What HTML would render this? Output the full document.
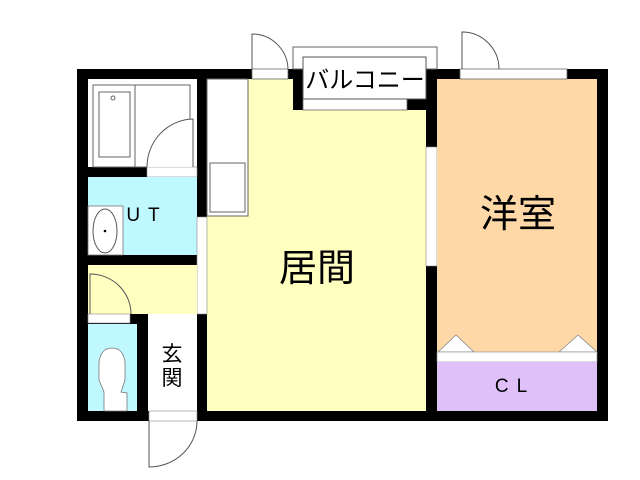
<!DOCTYPE html>
<html><head><meta charset="utf-8"><style>
body{margin:0;background:#fff}
svg{display:block}
text{font-family:"Liberation Sans","Noto Sans CJK JP",sans-serif;fill:#000}
</style></head><body>
<svg width="640" height="480" viewBox="0 0 640 480" xmlns="http://www.w3.org/2000/svg">
<rect x="77" y="69" width="531" height="352" fill="#000"/>
<rect x="207" y="79" width="219" height="332" fill="#ffffc0"/>
<rect x="207" y="79" width="41" height="137" fill="#fff" stroke="#666" stroke-width="1"/>
<rect x="210" y="163" width="35" height="49" fill="#fff" stroke="#666" stroke-width="1"/>
<rect x="293" y="69" width="144" height="41" fill="#000"/>
<rect x="303" y="99" width="104" height="11" fill="#fff" stroke="#666" stroke-width="0.8"/>
<rect x="293" y="47" width="144" height="22" fill="#fff" stroke="#666" stroke-width="1"/>
<rect x="303" y="57" width="123" height="42" fill="#fff" stroke="#555" stroke-width="1"/>
<text x="365" y="88" font-size="24" text-anchor="middle">バルコニー</text>
<rect x="252" y="69" width="36" height="10" fill="#fff" stroke="#666" stroke-width="0.8"/>
<path d="M252 69 V34 A36 36 0 0 1 288 69" fill="none" stroke="#555" stroke-width="1"/>
<rect x="426" y="147" width="11" height="119" fill="#fff" stroke="#888" stroke-width="0.6"/>
<rect x="437" y="79" width="160" height="273" fill="#ffd8a8"/>
<rect x="460" y="69" width="107" height="10" fill="#fff" stroke="#666" stroke-width="0.8"/>
<path d="M462 69 V32 A37 37 0 0 1 499 69" fill="none" stroke="#555" stroke-width="1"/>
<text x="518" y="227" font-size="38" text-anchor="middle">洋室</text>
<polygon points="438,352 456,335 474,352" fill="#fff" stroke="#888" stroke-width="0.8"/>
<polygon points="559,352 578,335 597,352" fill="#fff" stroke="#888" stroke-width="0.8"/>
<rect x="437" y="352" width="160" height="10" fill="#fff" stroke="#888" stroke-width="0.6"/>
<rect x="437" y="362" width="160" height="49" fill="#e0c0f8"/>
<text x="515" y="392" font-size="19" text-anchor="middle" letter-spacing="8">CL</text>
<text x="317" y="281" font-size="38" text-anchor="middle">居間</text>
<rect x="88" y="79" width="109" height="88" fill="#fff"/>
<rect x="93" y="85" width="97" height="82" fill="#fff" stroke="#666" stroke-width="1"/>
<line x1="135" y1="85" x2="135" y2="167" stroke="#666"/>
<rect x="99" y="92" width="31" height="65" fill="#fff" stroke="#666"/>
<circle cx="113" cy="98" r="2" fill="none" stroke="#666"/>
<rect x="147" y="167" width="50" height="10" fill="#fff" stroke="#888" stroke-width="0.6"/>
<path d="M193 167 V119 A47 48 0 0 0 147 167" fill="#fff" stroke="#555" stroke-width="1"/>
<rect x="88" y="177" width="109" height="78" fill="#c0f8ff"/>
<rect x="88" y="206" width="35" height="49" fill="#fff" stroke="#777" stroke-width="0.8"/>
<ellipse cx="105" cy="231" rx="12" ry="22" fill="#fff" stroke="#555"/>
<circle cx="105" cy="231" r="1.3" fill="#000"/>
<text x="147" y="221" font-size="19" text-anchor="middle" letter-spacing="8">UT</text>
<rect x="197" y="217" width="10" height="97" fill="#fff" stroke="#888" stroke-width="0.6"/>
<rect x="88" y="265" width="109" height="49" fill="#ffffc0"/>
<path d="M90 314 V274 A41 40 0 0 1 131 314" fill="none" stroke="#555" stroke-width="1"/>
<rect x="88" y="314" width="42" height="9" fill="#fff" stroke="#888" stroke-width="0.6"/>
<rect x="88" y="324" width="49" height="87" fill="#c0f8ff"/>
<path d="M104 411 V392 L99 380 L99 362 Q101 348 112 348 Q123 348 125 362 L125 380 L121 392 L127 393 V411 Z" fill="#fff" stroke="#777" stroke-width="0.8"/>
<rect x="148" y="314" width="49" height="97" fill="#fff"/>
<text x="172" y="361" font-size="21" text-anchor="middle">玄</text>
<text x="172" y="385" font-size="21" text-anchor="middle">関</text>
<rect x="149" y="411" width="48" height="10" fill="#fff" stroke="#888" stroke-width="0.6"/>
<path d="M149 421 V467 A48 46 0 0 0 197 421" fill="none" stroke="#555" stroke-width="1"/>
</svg>
</body></html>
